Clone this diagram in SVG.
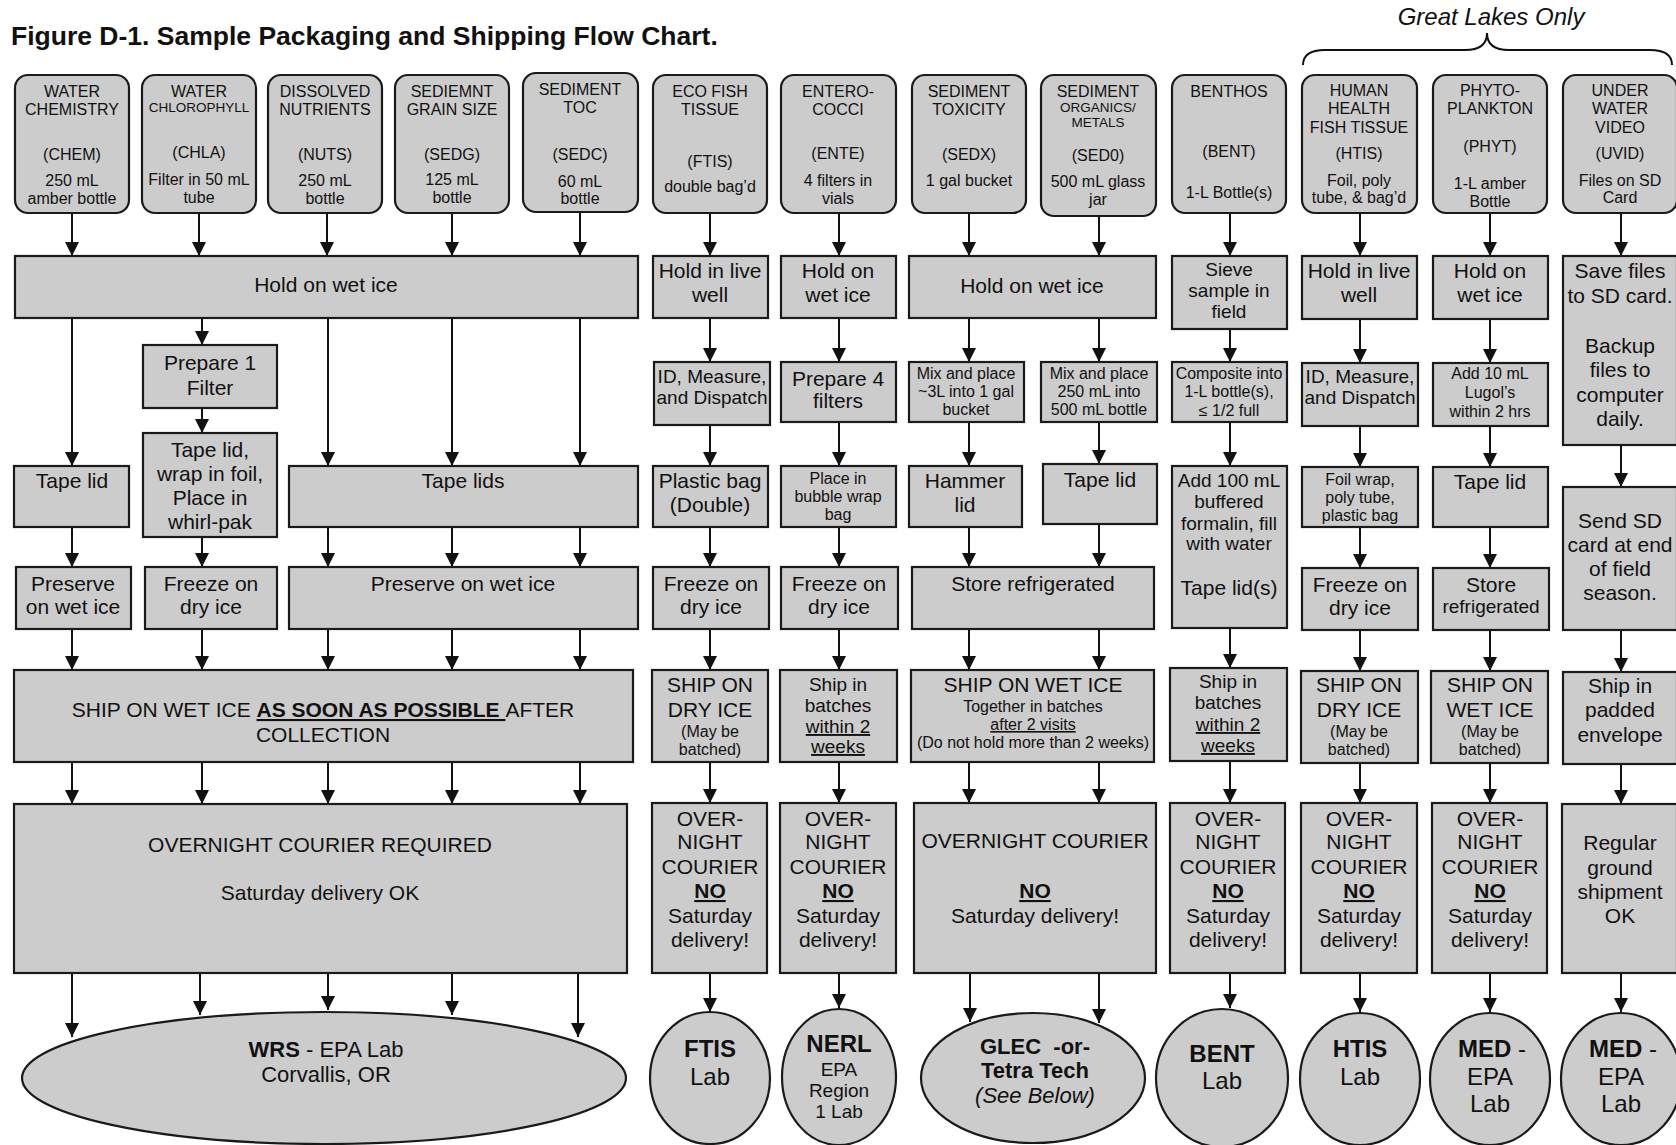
<svg xmlns="http://www.w3.org/2000/svg" width="1676" height="1145" viewBox="0 0 1676 1145">
<style>
.t{font-family:"Liberation Sans",Arial,Helvetica,sans-serif;fill:#111;text-anchor:middle}
.s13{font-size:13.5px}.s15{font-size:16px}.s16{font-size:16px}.s18{font-size:19px}.s20{font-size:21px}.s21{font-size:22px}.s23{font-size:24px}
.b{font-weight:bold}.u{text-decoration:underline}.i{font-style:italic}
.n{fill:#cccccc;stroke:#1a1a1a;stroke-width:2.2}
.c{stroke:#111;stroke-width:2;fill:none;marker-end:url(#ah)}
</style>
<defs>
<marker id="ah" markerUnits="userSpaceOnUse" markerWidth="14" markerHeight="14" refX="14" refY="7" orient="auto"><path d="M0,0 L14,7 L0,14 z" fill="#111"/></marker>
</defs>
<rect width="1676" height="1145" fill="#ffffff"/>
<text class="b" x="11" y="45" style="font-family:'Liberation Sans',Arial,sans-serif;font-size:26.5px;fill:#111">Figure D-1. Sample Packaging and Shipping Flow Chart.</text>
<text class="t i" x="1491" y="25" style="font-size:24px">Great Lakes Only</text>
<path d="M1303,65 Q1303,50 1325,50 L1465,50 Q1487,50 1487,33 Q1487,50 1509,50 L1650,50 Q1672,50 1672,65" fill="none" stroke="#111" stroke-width="2"/>

<g id="connectors">
<line class="c" x1="72" y1="213" x2="72" y2="256"/>
<line class="c" x1="199" y1="213" x2="199" y2="256"/>
<line class="c" x1="327" y1="213" x2="327" y2="256"/>
<line class="c" x1="452" y1="213" x2="452" y2="256"/>
<line class="c" x1="580" y1="212" x2="580" y2="256"/>
<line class="c" x1="710" y1="213" x2="710" y2="256"/>
<line class="c" x1="839" y1="213" x2="839" y2="256"/>
<line class="c" x1="969" y1="213" x2="969" y2="256"/>
<line class="c" x1="1099" y1="216" x2="1099" y2="256"/>
<line class="c" x1="1230" y1="213" x2="1230" y2="256"/>
<line class="c" x1="1360" y1="213" x2="1360" y2="256"/>
<line class="c" x1="1490" y1="213" x2="1490" y2="256"/>
<line class="c" x1="1621" y1="213" x2="1621" y2="256"/>

<line class="c" x1="72" y1="318" x2="72" y2="466"/>
<line class="c" x1="202" y1="318" x2="202" y2="345"/>
<line class="c" x1="328" y1="318" x2="328" y2="466"/>
<line class="c" x1="452" y1="318" x2="452" y2="466"/>
<line class="c" x1="580" y1="318" x2="580" y2="466"/>
<line class="c" x1="710" y1="318" x2="710" y2="362"/>
<line class="c" x1="839" y1="318" x2="839" y2="362"/>
<line class="c" x1="969" y1="318" x2="969" y2="362"/>
<line class="c" x1="1099" y1="318" x2="1099" y2="362"/>
<line class="c" x1="1230" y1="329" x2="1230" y2="362"/>
<line class="c" x1="1360" y1="319" x2="1360" y2="363"/>
<line class="c" x1="1490" y1="319" x2="1490" y2="363"/>
<line class="c" x1="1621" y1="445" x2="1621" y2="487"/>

<line class="c" x1="202" y1="408" x2="202" y2="433"/>
<line class="c" x1="710" y1="425" x2="710" y2="466"/>
<line class="c" x1="839" y1="422" x2="839" y2="466"/>
<line class="c" x1="969" y1="422" x2="969" y2="466"/>
<line class="c" x1="1099" y1="422" x2="1099" y2="464"/>
<line class="c" x1="1230" y1="422" x2="1230" y2="466"/>
<line class="c" x1="1360" y1="426" x2="1360" y2="467"/>
<line class="c" x1="1490" y1="426" x2="1490" y2="467"/>

<line class="c" x1="72" y1="527" x2="72" y2="567"/>
<line class="c" x1="202" y1="537" x2="202" y2="567"/>
<line class="c" x1="328" y1="527" x2="328" y2="567"/>
<line class="c" x1="452" y1="527" x2="452" y2="567"/>
<line class="c" x1="580" y1="527" x2="580" y2="567"/>
<line class="c" x1="710" y1="527" x2="710" y2="567"/>
<line class="c" x1="839" y1="527" x2="839" y2="567"/>
<line class="c" x1="969" y1="527" x2="969" y2="567"/>
<line class="c" x1="1099" y1="524" x2="1099" y2="567"/>
<line class="c" x1="1360" y1="527" x2="1360" y2="568"/>
<line class="c" x1="1490" y1="527" x2="1490" y2="568"/>
<line class="c" x1="1230" y1="628" x2="1230" y2="668"/>
<line class="c" x1="1621" y1="630" x2="1621" y2="672"/>

<line class="c" x1="72" y1="629" x2="72" y2="670"/>
<line class="c" x1="202" y1="629" x2="202" y2="670"/>
<line class="c" x1="328" y1="629" x2="328" y2="670"/>
<line class="c" x1="452" y1="629" x2="452" y2="670"/>
<line class="c" x1="580" y1="629" x2="580" y2="670"/>
<line class="c" x1="710" y1="629" x2="710" y2="670"/>
<line class="c" x1="839" y1="629" x2="839" y2="670"/>
<line class="c" x1="969" y1="629" x2="969" y2="670"/>
<line class="c" x1="1099" y1="629" x2="1099" y2="670"/>
<line class="c" x1="1360" y1="630" x2="1360" y2="671"/>
<line class="c" x1="1490" y1="630" x2="1490" y2="671"/>

<line class="c" x1="72" y1="762" x2="72" y2="804"/>
<line class="c" x1="202" y1="762" x2="202" y2="804"/>
<line class="c" x1="328" y1="762" x2="328" y2="804"/>
<line class="c" x1="452" y1="762" x2="452" y2="804"/>
<line class="c" x1="580" y1="762" x2="580" y2="804"/>
<line class="c" x1="710" y1="762" x2="710" y2="803"/>
<line class="c" x1="839" y1="762" x2="839" y2="803"/>
<line class="c" x1="969" y1="762" x2="969" y2="803"/>
<line class="c" x1="1099" y1="762" x2="1099" y2="803"/>
<line class="c" x1="1230" y1="761" x2="1230" y2="803"/>
<line class="c" x1="1360" y1="763" x2="1360" y2="803"/>
<line class="c" x1="1490" y1="763" x2="1490" y2="803"/>
<line class="c" x1="1621" y1="764" x2="1621" y2="804"/>

<line class="c" x1="72" y1="973" x2="72" y2="1037"/>
<line class="c" x1="200" y1="973" x2="200" y2="1015"/>
<line class="c" x1="328" y1="973" x2="328" y2="1010"/>
<line class="c" x1="452" y1="973" x2="452" y2="1015"/>
<line class="c" x1="578" y1="973" x2="578" y2="1037"/>
<line class="c" x1="710" y1="973" x2="710" y2="1012"/>
<line class="c" x1="839" y1="973" x2="839" y2="1008"/>
<line class="c" x1="970" y1="973" x2="970" y2="1022"/>
<line class="c" x1="1099" y1="973" x2="1099" y2="1023"/>
<line class="c" x1="1230" y1="973" x2="1230" y2="1008"/>
<line class="c" x1="1360" y1="973" x2="1360" y2="1012"/>
<line class="c" x1="1490" y1="973" x2="1490" y2="1012"/>
<line class="c" x1="1621" y1="973" x2="1621" y2="1012"/>
</g>

<!-- Row 1 -->
<g id="chem"><rect class="n" x="15" y="75" width="114" height="138" rx="13"/>
<text class="t s16"><tspan x="72" y="97">WATER</tspan><tspan x="72" y="115">CHEMISTRY</tspan><tspan x="72" y="160">(CHEM)</tspan><tspan x="72" y="186">250 mL</tspan><tspan x="72" y="204">amber bottle</tspan></text></g>
<g id="chla"><rect class="n" x="142" y="75" width="114" height="138" rx="13"/>
<text class="t s16"><tspan x="199" y="97">WATER</tspan><tspan x="199" y="112" class="s13">CHLOROPHYLL</tspan><tspan x="199" y="158">(CHLA)</tspan><tspan x="199" y="185">Filter in 50 mL</tspan><tspan x="199" y="203">tube</tspan></text></g>
<g id="nuts"><rect class="n" x="268" y="75" width="114" height="138" rx="13"/>
<text class="t s16"><tspan x="325" y="97">DISSOLVED</tspan><tspan x="325" y="115">NUTRIENTS</tspan><tspan x="325" y="160">(NUTS)</tspan><tspan x="325" y="186">250 mL</tspan><tspan x="325" y="204">bottle</tspan></text></g>
<g id="sedg"><rect class="n" x="395" y="75" width="114" height="138" rx="13"/>
<text class="t s16"><tspan x="452" y="97">SEDIEMNT</tspan><tspan x="452" y="115">GRAIN SIZE</tspan><tspan x="452" y="160">(SEDG)</tspan><tspan x="452" y="185">125 mL</tspan><tspan x="452" y="203">bottle</tspan></text></g>
<g id="sedc"><rect class="n" x="523" y="73" width="115" height="139" rx="13"/>
<text class="t s16"><tspan x="580" y="95">SEDIMENT</tspan><tspan x="580" y="113">TOC</tspan><tspan x="580" y="160">(SEDC)</tspan><tspan x="580" y="187">60 mL</tspan><tspan x="580" y="204">bottle</tspan></text></g>
<g id="ftis"><rect class="n" x="653" y="75" width="114" height="138" rx="13"/>
<text class="t s16"><tspan x="710" y="97">ECO FISH</tspan><tspan x="710" y="115">TISSUE</tspan><tspan x="710" y="167">(FTIS)</tspan><tspan x="710" y="192">double bag’d</tspan></text></g>
<g id="ente"><rect class="n" x="781" y="75" width="115" height="138" rx="13"/>
<text class="t s16"><tspan x="838" y="97">ENTERO-</tspan><tspan x="838" y="115">COCCI</tspan><tspan x="838" y="159">(ENTE)</tspan><tspan x="838" y="186">4 filters in</tspan><tspan x="838" y="204">vials</tspan></text></g>
<g id="sedx"><rect class="n" x="912" y="75" width="114" height="138" rx="13"/>
<text class="t s16"><tspan x="969" y="97">SEDIMENT</tspan><tspan x="969" y="115">TOXICITY</tspan><tspan x="969" y="160">(SEDX)</tspan><tspan x="969" y="186">1 gal bucket</tspan></text></g>
<g id="sed0"><rect class="n" x="1041" y="75" width="115" height="141" rx="13"/>
<text class="t s16"><tspan x="1098" y="97">SEDIMENT</tspan><tspan x="1098" y="112" class="s13">ORGANICS/</tspan><tspan x="1098" y="127" class="s13">METALS</tspan><tspan x="1098" y="161">(SED0)</tspan><tspan x="1098" y="187">500 mL glass</tspan><tspan x="1098" y="205">jar</tspan></text></g>
<g id="bent"><rect class="n" x="1172" y="75" width="114" height="138" rx="13"/>
<text class="t s16"><tspan x="1229" y="97">BENTHOS</tspan><tspan x="1229" y="157">(BENT)</tspan><tspan x="1229" y="198">1-L Bottle(s)</tspan></text></g>
<g id="htis"><rect class="n" x="1302" y="75" width="115" height="138" rx="13"/>
<text class="t s16"><tspan x="1359" y="96">HUMAN</tspan><tspan x="1359" y="114">HEALTH</tspan><tspan x="1359" y="133">FISH TISSUE</tspan><tspan x="1359" y="159">(HTIS)</tspan><tspan x="1359" y="186">Foil, poly</tspan><tspan x="1359" y="203">tube, &amp; bag’d</tspan></text></g>
<g id="phyt"><rect class="n" x="1433" y="75" width="114" height="138" rx="13"/>
<text class="t s16"><tspan x="1490" y="96">PHYTO-</tspan><tspan x="1490" y="114">PLANKTON</tspan><tspan x="1490" y="152">(PHYT)</tspan><tspan x="1490" y="189">1-L amber</tspan><tspan x="1490" y="207">Bottle</tspan></text></g>
<g id="uvid"><rect class="n" x="1563" y="75" width="114" height="138" rx="13"/>
<text class="t s16"><tspan x="1620" y="96">UNDER</tspan><tspan x="1620" y="114">WATER</tspan><tspan x="1620" y="133">VIDEO</tspan><tspan x="1620" y="159">(UVID)</tspan><tspan x="1620" y="186">Files on SD</tspan><tspan x="1620" y="203">Card</tspan></text></g>

<!-- Row 2 -->
<g id="r2a"><rect class="n" x="15" y="256" width="623" height="62"/><text class="t s20" x="326" y="292">Hold on wet ice</text></g>
<g id="r2f"><rect class="n" x="653" y="256" width="115" height="62"/><text class="t s20"><tspan x="710" y="278">Hold in live</tspan><tspan x="710" y="302">well</tspan></text></g>
<g id="r2e"><rect class="n" x="781" y="256" width="115" height="62"/><text class="t s20"><tspan x="838" y="278">Hold on</tspan><tspan x="838" y="302">wet ice</tspan></text></g>
<g id="r2s"><rect class="n" x="909" y="256" width="247" height="62"/><text class="t s20" x="1032" y="293">Hold on wet ice</text></g>
<g id="r2b"><rect class="n" x="1172" y="256" width="115" height="73"/><text class="t s18"><tspan x="1229" y="276">Sieve</tspan><tspan x="1229" y="297">sample in</tspan><tspan x="1229" y="318">field</tspan></text></g>
<g id="r2h"><rect class="n" x="1302" y="256" width="115" height="63"/><text class="t s20"><tspan x="1359" y="278">Hold in live</tspan><tspan x="1359" y="302">well</tspan></text></g>
<g id="r2p"><rect class="n" x="1433" y="256" width="115" height="63"/><text class="t s20"><tspan x="1490" y="278">Hold on</tspan><tspan x="1490" y="302">wet ice</tspan></text></g>
<g id="r2u"><rect class="n" x="1563" y="256" width="114" height="189"/><text class="t s20"><tspan x="1620" y="278">Save files</tspan><tspan x="1620" y="303">to SD card.</tspan><tspan x="1620" y="353">Backup</tspan><tspan x="1620" y="377">files to</tspan><tspan x="1620" y="402">computer</tspan><tspan x="1620" y="426">daily.</tspan></text></g>

<!-- Row 3 -->
<g id="r3c2"><rect class="n" x="143" y="345" width="134" height="63"/><text class="t s20"><tspan x="210" y="370">Prepare 1</tspan><tspan x="210" y="395">Filter</tspan></text></g>
<g id="r3f"><rect class="n" x="654" y="362" width="116" height="63"/><text class="t s18"><tspan x="712" y="383">ID, Measure,</tspan><tspan x="712" y="404">and Dispatch</tspan></text></g>
<g id="r3e"><rect class="n" x="781" y="362" width="115" height="60"/><text class="t s20"><tspan x="838" y="386">Prepare 4</tspan><tspan x="838" y="408">filters</tspan></text></g>
<g id="r3sx"><rect class="n" x="909" y="362" width="115" height="60"/><text class="t s15"><tspan x="966" y="379">Mix and place</tspan><tspan x="966" y="397">~3L into 1 gal</tspan><tspan x="966" y="415">bucket</tspan></text></g>
<g id="r3s0"><rect class="n" x="1041" y="362" width="116" height="60"/><text class="t s15"><tspan x="1099" y="379">Mix and place</tspan><tspan x="1099" y="397">250 mL into</tspan><tspan x="1099" y="415">500 mL bottle</tspan></text></g>
<g id="r3b"><rect class="n" x="1172" y="362" width="115" height="60"/><text class="t s15"><tspan x="1229" y="379">Composite into</tspan><tspan x="1229" y="397">1-L bottle(s),</tspan><tspan x="1229" y="416">≤ 1/2 full</tspan></text></g>
<g id="r3h"><rect class="n" x="1302" y="363" width="116" height="63"/><text class="t s18"><tspan x="1360" y="383">ID, Measure,</tspan><tspan x="1360" y="404">and Dispatch</tspan></text></g>
<g id="r3p"><rect class="n" x="1433" y="363" width="115" height="63"/><text class="t s15"><tspan x="1490" y="379">Add 10 mL</tspan><tspan x="1490" y="398">Lugol’s</tspan><tspan x="1490" y="417">within 2 hrs</tspan></text></g>

<!-- Row 4 -->
<g id="r4c1"><rect class="n" x="14" y="466" width="115" height="61"/><text class="t s20" x="72" y="488">Tape lid</text></g>
<g id="r4c2"><rect class="n" x="143" y="433" width="134" height="104"/><text class="t s20"><tspan x="210" y="457">Tape lid,</tspan><tspan x="210" y="481">wrap in foil,</tspan><tspan x="210" y="505">Place in</tspan><tspan x="210" y="529">whirl-pak</tspan></text></g>
<g id="r4c3"><rect class="n" x="289" y="466" width="349" height="61"/><text class="t s20" x="463" y="488">Tape lids</text></g>
<g id="r4f"><rect class="n" x="653" y="466" width="115" height="61"/><text class="t s20"><tspan x="710" y="488">Plastic bag</tspan><tspan x="710" y="512">(Double)</tspan></text></g>
<g id="r4e"><rect class="n" x="781" y="466" width="115" height="61"/><text class="t s15"><tspan x="838" y="484">Place in</tspan><tspan x="838" y="502">bubble wrap</tspan><tspan x="838" y="520">bag</tspan></text></g>
<g id="r4sx"><rect class="n" x="909" y="466" width="113" height="61"/><text class="t s20"><tspan x="965" y="488">Hammer</tspan><tspan x="965" y="512">lid</tspan></text></g>
<g id="r4s0"><rect class="n" x="1043" y="464" width="114" height="60"/><text class="t s20" x="1100" y="487">Tape lid</text></g>
<g id="r4b"><rect class="n" x="1172" y="466" width="115" height="162"/><text class="t s18"><tspan x="1229" y="487">Add 100 mL</tspan><tspan x="1229" y="508">buffered</tspan><tspan x="1229" y="530">formalin, fill</tspan><tspan x="1229" y="550">with water</tspan><tspan x="1229" y="595" class="s20">Tape lid(s)</tspan></text></g>
<g id="r4h"><rect class="n" x="1302" y="467" width="116" height="60"/><text class="t s15"><tspan x="1360" y="485">Foil wrap,</tspan><tspan x="1360" y="503">poly tube,</tspan><tspan x="1360" y="521">plastic bag</tspan></text></g>
<g id="r4p"><rect class="n" x="1433" y="467" width="115" height="60"/><text class="t s20" x="1490" y="489">Tape lid</text></g>
<g id="r4u"><rect class="n" x="1563" y="487" width="114" height="143"/><text class="t s20"><tspan x="1620" y="528">Send SD</tspan><tspan x="1620" y="552">card at end</tspan><tspan x="1620" y="576">of field</tspan><tspan x="1620" y="600">season.</tspan></text></g>

<!-- Row 5 -->
<g id="r5c1"><rect class="n" x="16" y="567" width="115" height="62"/><text class="t s20"><tspan x="73" y="591">Preserve</tspan><tspan x="73" y="614">on wet ice</tspan></text></g>
<g id="r5c2"><rect class="n" x="145" y="567" width="132" height="62"/><text class="t s20"><tspan x="211" y="591">Freeze on</tspan><tspan x="211" y="614">dry ice</tspan></text></g>
<g id="r5c3"><rect class="n" x="289" y="567" width="349" height="62"/><text class="t s20" x="463" y="591">Preserve on wet ice</text></g>
<g id="r5f"><rect class="n" x="653" y="567" width="116" height="62"/><text class="t s20"><tspan x="711" y="591">Freeze on</tspan><tspan x="711" y="614">dry ice</tspan></text></g>
<g id="r5e"><rect class="n" x="781" y="567" width="117" height="62"/><text class="t s20"><tspan x="839" y="591">Freeze on</tspan><tspan x="839" y="614">dry ice</tspan></text></g>
<g id="r5s"><rect class="n" x="912" y="567" width="242" height="62"/><text class="t s20" x="1033" y="591">Store refrigerated</text></g>
<g id="r5h"><rect class="n" x="1302" y="568" width="116" height="62"/><text class="t s20"><tspan x="1360" y="592">Freeze on</tspan><tspan x="1360" y="615">dry ice</tspan></text></g>
<g id="r5p"><rect class="n" x="1433" y="568" width="116" height="62"/><text class="t s20"><tspan x="1491" y="592">Store</tspan><tspan x="1491" y="613" class="s18">refrigerated</tspan></text></g>

<!-- Row 6 -->
<g id="r6a"><rect class="n" x="14" y="670" width="619" height="92"/><text class="t s20"><tspan x="323" y="717">SHIP ON WET ICE <tspan class="b u">AS SOON AS POSSIBLE </tspan>AFTER</tspan><tspan x="323" y="742">COLLECTION</tspan></text></g>
<g id="r6f"><rect class="n" x="652" y="670" width="116" height="92"/><text class="t s20"><tspan x="710" y="692">SHIP ON</tspan><tspan x="710" y="717">DRY ICE</tspan><tspan x="710" y="737" class="s15">(May be</tspan><tspan x="710" y="755" class="s15">batched)</tspan></text></g>
<g id="r6e"><rect class="n" x="780" y="670" width="117" height="92"/><text class="t s18"><tspan x="838" y="691">Ship in</tspan><tspan x="838" y="712">batches</tspan><tspan x="838" y="733" class="u">within 2</tspan><tspan x="838" y="753" class="u">weeks</tspan></text></g>
<g id="r6s"><rect class="n" x="911" y="670" width="243" height="92"/><text class="t s15"><tspan x="1033" y="692" class="s20">SHIP ON WET ICE</tspan><tspan x="1033" y="712">Together in batches</tspan><tspan x="1033" y="730" class="u">after 2 visits</tspan><tspan x="1033" y="748">(Do not hold more than 2 weeks)</tspan></text></g>
<g id="r6b"><rect class="n" x="1170" y="668" width="117" height="93"/><text class="t s18"><tspan x="1228" y="688">Ship in</tspan><tspan x="1228" y="709">batches</tspan><tspan x="1228" y="731" class="u">within 2</tspan><tspan x="1228" y="752" class="u">weeks</tspan></text></g>
<g id="r6h"><rect class="n" x="1301" y="671" width="117" height="92"/><text class="t s20"><tspan x="1359" y="692">SHIP ON</tspan><tspan x="1359" y="717">DRY ICE</tspan><tspan x="1359" y="737" class="s15">(May be</tspan><tspan x="1359" y="755" class="s15">batched)</tspan></text></g>
<g id="r6p"><rect class="n" x="1431" y="671" width="117" height="92"/><text class="t s20"><tspan x="1490" y="692">SHIP ON</tspan><tspan x="1490" y="717">WET ICE</tspan><tspan x="1490" y="737" class="s15">(May be</tspan><tspan x="1490" y="755" class="s15">batched)</tspan></text></g>
<g id="r6u"><rect class="n" x="1563" y="672" width="114" height="92"/><text class="t s20"><tspan x="1620" y="693">Ship in</tspan><tspan x="1620" y="717">padded</tspan><tspan x="1620" y="742">envelope</tspan></text></g>

<!-- Row 7 -->
<g id="r7a"><rect class="n" x="14" y="804" width="613" height="169"/><text class="t s20"><tspan x="320" y="852">OVERNIGHT COURIER REQUIRED</tspan><tspan x="320" y="900">Saturday delivery OK</tspan></text></g>
<g id="r7f"><rect class="n" x="652" y="803" width="115" height="170"/><text class="t s20"><tspan x="710" y="826">OVER-</tspan><tspan x="710" y="849">NIGHT</tspan><tspan x="710" y="874">COURIER</tspan><tspan x="710" y="898" class="b u">NO</tspan><tspan x="710" y="923">Saturday</tspan><tspan x="710" y="947">delivery!</tspan></text></g>
<g id="r7e"><rect class="n" x="780" y="803" width="116" height="170"/><text class="t s20"><tspan x="838" y="826">OVER-</tspan><tspan x="838" y="849">NIGHT</tspan><tspan x="838" y="874">COURIER</tspan><tspan x="838" y="898" class="b u">NO</tspan><tspan x="838" y="923">Saturday</tspan><tspan x="838" y="947">delivery!</tspan></text></g>
<g id="r7s"><rect class="n" x="914" y="803" width="242" height="170"/><text class="t s20"><tspan x="1035" y="848">OVERNIGHT COURIER</tspan><tspan x="1035" y="898" class="b u">NO</tspan><tspan x="1035" y="923">Saturday delivery!</tspan></text></g>
<g id="r7b"><rect class="n" x="1170" y="803" width="115" height="170"/><text class="t s20"><tspan x="1228" y="826">OVER-</tspan><tspan x="1228" y="849">NIGHT</tspan><tspan x="1228" y="874">COURIER</tspan><tspan x="1228" y="898" class="b u">NO</tspan><tspan x="1228" y="923">Saturday</tspan><tspan x="1228" y="947">delivery!</tspan></text></g>
<g id="r7h"><rect class="n" x="1301" y="803" width="116" height="170"/><text class="t s20"><tspan x="1359" y="826">OVER-</tspan><tspan x="1359" y="849">NIGHT</tspan><tspan x="1359" y="874">COURIER</tspan><tspan x="1359" y="898" class="b u">NO</tspan><tspan x="1359" y="923">Saturday</tspan><tspan x="1359" y="947">delivery!</tspan></text></g>
<g id="r7p"><rect class="n" x="1432" y="803" width="115" height="170"/><text class="t s20"><tspan x="1490" y="826">OVER-</tspan><tspan x="1490" y="849">NIGHT</tspan><tspan x="1490" y="874">COURIER</tspan><tspan x="1490" y="898" class="b u">NO</tspan><tspan x="1490" y="923">Saturday</tspan><tspan x="1490" y="947">delivery!</tspan></text></g>
<g id="r7u"><rect class="n" x="1562" y="804" width="115" height="169"/><text class="t s20"><tspan x="1620" y="850">Regular</tspan><tspan x="1620" y="875">ground</tspan><tspan x="1620" y="899">shipment</tspan><tspan x="1620" y="923">OK</tspan></text></g>

<!-- Row 8 labs -->
<g id="lab-wrs"><ellipse class="n" cx="324" cy="1078" rx="302" ry="66"/><text class="t s21"><tspan x="326" y="1057"><tspan class="b">WRS</tspan> - EPA Lab</tspan><tspan x="326" y="1082">Corvallis, OR</tspan></text></g>
<g id="lab-ftis"><ellipse class="n" cx="710" cy="1078" rx="60" ry="66"/><text class="t s23"><tspan x="710" y="1057" class="b">FTIS</tspan><tspan x="710" y="1085">Lab</tspan></text></g>
<g id="lab-nerl"><ellipse class="n" cx="839" cy="1077" rx="57" ry="68"/><text class="t s18"><tspan x="839" y="1052" class="b s23">NERL</tspan><tspan x="839" y="1076">EPA</tspan><tspan x="839" y="1097">Region</tspan><tspan x="839" y="1118">1 Lab</tspan></text></g>
<g id="lab-glec"><ellipse class="n" cx="1033" cy="1078" rx="112" ry="65"/><text class="t s21"><tspan x="1035" y="1054" class="b" style="white-space:pre">GLEC  -or-</tspan><tspan x="1035" y="1078" class="b">Tetra Tech</tspan><tspan x="1035" y="1103" class="i">(See Below)</tspan></text></g>
<g id="lab-bent"><ellipse class="n" cx="1222" cy="1078" rx="66" ry="69"/><text class="t s23"><tspan x="1222" y="1062" class="b">BENT</tspan><tspan x="1222" y="1089">Lab</tspan></text></g>
<g id="lab-htis"><ellipse class="n" cx="1360" cy="1079" rx="60" ry="66"/><text class="t s23"><tspan x="1360" y="1057" class="b">HTIS</tspan><tspan x="1360" y="1085">Lab</tspan></text></g>
<g id="lab-med1"><ellipse class="n" cx="1490" cy="1079" rx="60" ry="66"/><text class="t s23"><tspan x="1492" y="1057"><tspan class="b">MED</tspan> -</tspan><tspan x="1490" y="1085">EPA</tspan><tspan x="1490" y="1112">Lab</tspan></text></g>
<g id="lab-med2"><ellipse class="n" cx="1621" cy="1079" rx="60" ry="66"/><text class="t s23"><tspan x="1623" y="1057"><tspan class="b">MED</tspan> -</tspan><tspan x="1621" y="1085">EPA</tspan><tspan x="1621" y="1112">Lab</tspan></text></g>
</svg>
